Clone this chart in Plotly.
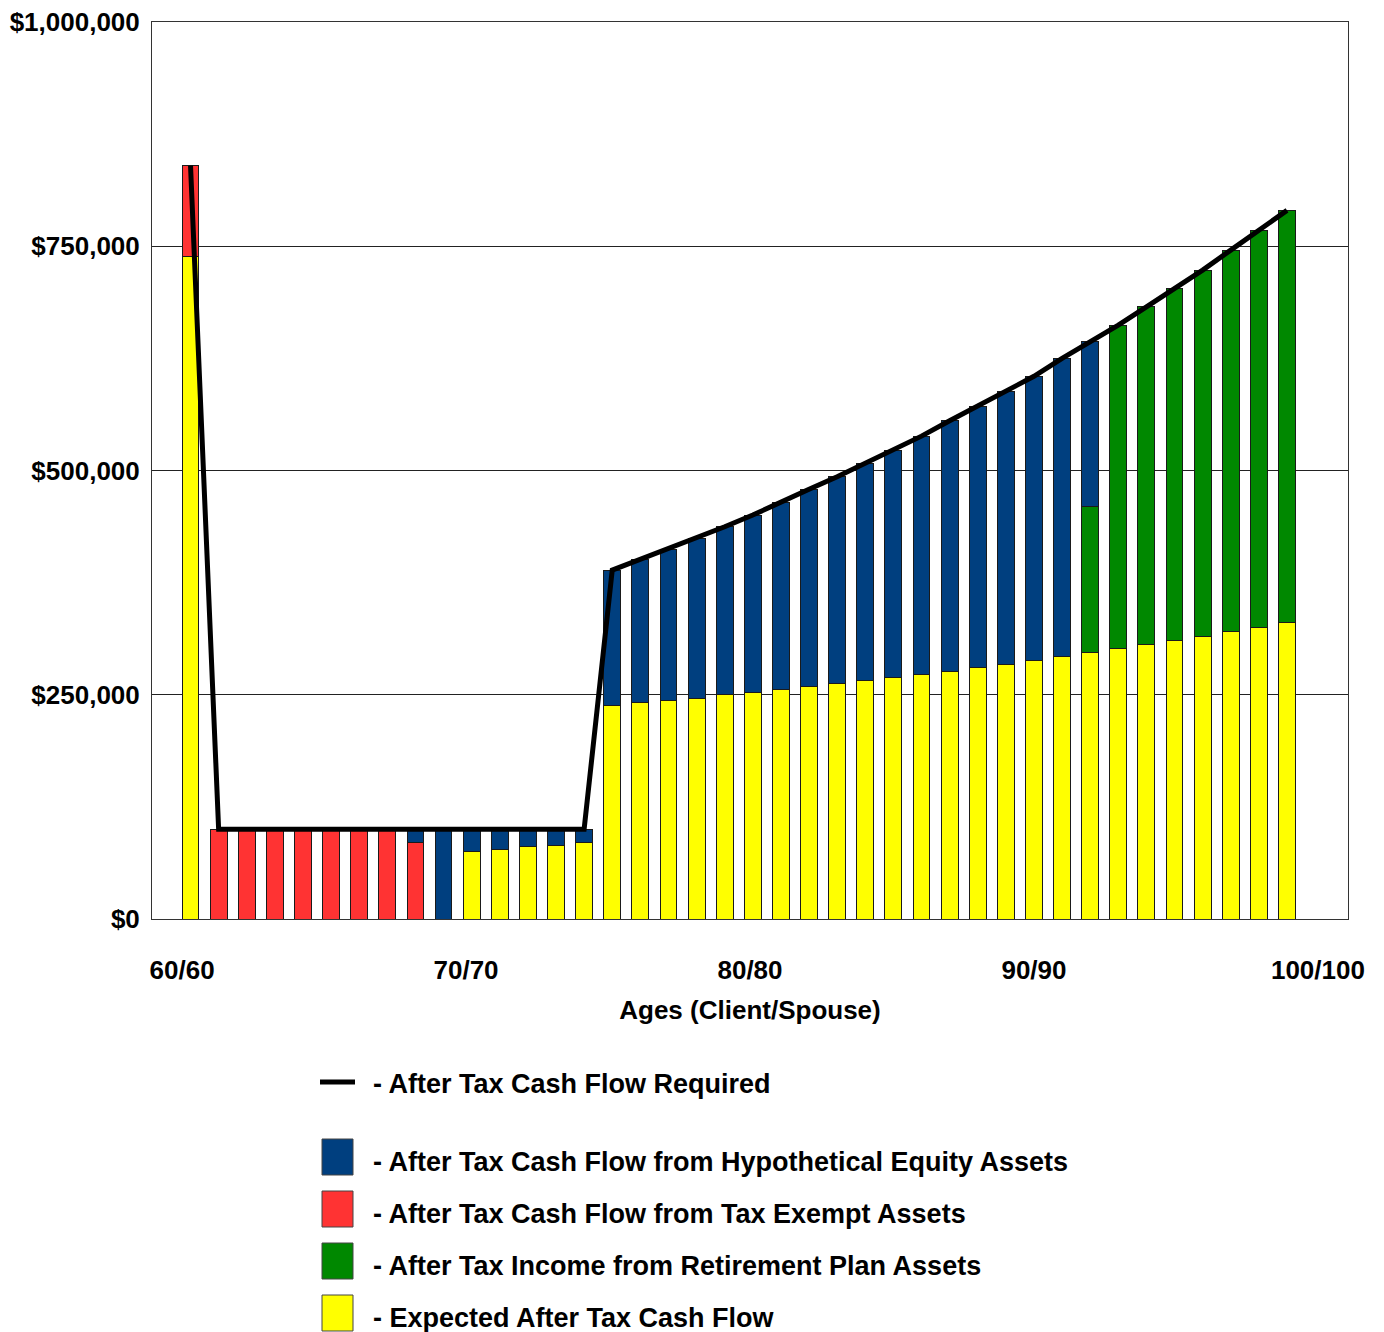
import plotly.graph_objects as go

# Ages of client/spouse, one bar per year
ages = list(range(60, 100))

# After-tax cash flow components (dollars)
expected_cash_flow = [
    739000,
    0, 0, 0, 0, 0, 0, 0, 0, 0,
    75800, 78000, 80600, 82500, 85500,
    238500, 241000, 243300, 246000, 250000,
    252700, 255600, 259300, 262000, 265500,
    269000, 272700, 276400, 280500, 283900,
    288300, 292800, 297300, 301300, 305700,
    310600, 315400, 320600, 325500, 330700,
]
tax_exempt_assets = [
    101000,
    100000, 100000, 100000, 100000, 100000, 100000, 100000,
    85000,
] + [0] * 31
retirement_plan_assets = [0] * 32 + [
    163000, 360700, 376800, 392400, 408000, 425100, 442500, 459300,
]
equity_assets = [0] * 8 + [
    15000, 100000,
    24200, 22000, 19400, 17500, 14500,
    150500, 160000, 168700, 178000, 187300,
    197600, 208400, 219700, 231000, 242500,
    253700, 265600, 279000, 291300, 304600,
    316700, 332200, 183200,
] + [0] * 7
cash_flow_required = [
    840000,
    100000, 100000, 100000, 100000, 100000, 100000, 100000,
    100000, 100000, 100000, 100000, 100000, 100000, 100000,
    389000, 401000, 412000, 424000, 437300,
    450300, 464000, 479000, 493000, 508000,
    522700, 538300, 555400, 571800, 588500,
    605000, 625000, 643500, 662000, 682500,
    703000, 723400, 745700, 768000, 790000,
]

# Axis ticks (age labels sit a little left of the bar centres)
x_tick_vals = [59.7, 69.8, 79.9, 90.0, 100.1]
x_tick_text = ["60/60", "70/70", "80/80", "90/90", "100/100"]
y_tick_vals = [0, 250000, 500000, 750000, 1000000]
y_tick_text = ["$0", "$250,000", "$500,000", "$750,000", "$1,000,000"]

# Legend entries
legend_line_label = "- After Tax Cash Flow Required"
legend_box_labels = [
    "- After Tax Cash Flow from Hypothetical Equity Assets",
    "- After Tax Cash Flow from Tax Exempt Assets",
    "- After Tax Income from Retirement Plan Assets",
    "- Expected After Tax Cash Flow",
]

YELLOW = "#FFFF00"
RED = "#FF3333"
GREEN = "#008800"
BLUE = "#003F7F"
legend_box_colors = [BLUE, RED, GREEN, YELLOW]

FONT = "Arial, 'Liberation Sans', sans-serif"
W, H = 1384, 1332
ML, MR, MT, MB = 152, 36, 22, 413
PW, PH = W - ML - MR, H - MT - MB


def px(x, y):
    """Convert page pixel position to paper coordinates."""
    return (x - ML) / PW, (H - MB - y) / PH


fig = go.Figure()
bar_line = dict(color="#1a1a1a", width=1)
for name, vals, col in [
    ("Expected After Tax Cash Flow", expected_cash_flow, YELLOW),
    ("After Tax Cash Flow from Tax Exempt Assets", tax_exempt_assets, RED),
    ("After Tax Income from Retirement Plan Assets", retirement_plan_assets, GREEN),
    ("After Tax Cash Flow from Hypothetical Equity Assets", equity_assets, BLUE),
]:
    fig.add_trace(go.Bar(
        x=ages, y=vals, name=name, width=0.6,
        marker=dict(color=col, line=bar_line),
        showlegend=False,
    ))

fig.add_trace(go.Scatter(
    x=ages, y=cash_flow_required, mode="lines",
    line=dict(color="black", width=5),
    name="After Tax Cash Flow Required", showlegend=False,
))

shapes = []
annotations = []
legend_font = dict(family=FONT, size=27, color="black", weight="bold")

# Legend: line sample
x0, y0 = px(320, 1082)
x1, _ = px(355, 1082)
shapes.append(dict(type="line", xref="paper", yref="paper", x0=x0, x1=x1, y0=y0, y1=y0,
                   line=dict(color="black", width=5)))
tx, ty = px(371, 1084)
annotations.append(dict(xref="paper", yref="paper", x=tx, y=ty, text=legend_line_label,
                        showarrow=False, xanchor="left", yanchor="middle", font=legend_font))

# Legend: colour boxes
box_tops = [1139, 1191, 1243, 1295]
for top, col, label in zip(box_tops, legend_box_colors, legend_box_labels):
    bx0, by0 = px(322, top + 36)
    bx1, by1 = px(353, top)
    shapes.append(dict(type="rect", xref="paper", yref="paper", x0=bx0, x1=bx1, y0=by0, y1=by1,
                       fillcolor=col, line=dict(color="#444", width=1)))
    tx, ty = px(371, top + 23)
    annotations.append(dict(xref="paper", yref="paper", x=tx, y=ty, text=label,
                            showarrow=False, xanchor="left", yanchor="middle", font=legend_font))

fig.update_layout(
    width=W, height=H,
    margin=dict(l=ML, r=MR, t=MT, b=MB, pad=0, autoexpand=False),
    barmode="stack",
    plot_bgcolor="white", paper_bgcolor="white",
    font=dict(family=FONT, color="black"),
    shapes=shapes, annotations=annotations,
    xaxis=dict(
        range=[58.63, 101.17], tickvals=x_tick_vals, ticktext=x_tick_text,
        showgrid=False, zeroline=False, showline=True, mirror=True, automargin=False,
        linecolor="#333", linewidth=1, ticks="", ticklabelstandoff=28,
        tickfont=dict(family=FONT, size=26, weight="bold"),
        title=dict(text="Ages (Client/Spouse)", standoff=16,
                   font=dict(family=FONT, size=26, weight="bold")),
    ),
    yaxis=dict(
        range=[0, 1000000], tickvals=y_tick_vals, ticktext=y_tick_text,
        showgrid=True, gridcolor="#222", gridwidth=1, zeroline=False,
        showline=True, mirror=True, linecolor="#333", linewidth=1, automargin=False,
        ticks="", ticklabelstandoff=6,
        tickfont=dict(family=FONT, size=26, weight="bold"),
    ),
)

fig.write_html("out.html")
